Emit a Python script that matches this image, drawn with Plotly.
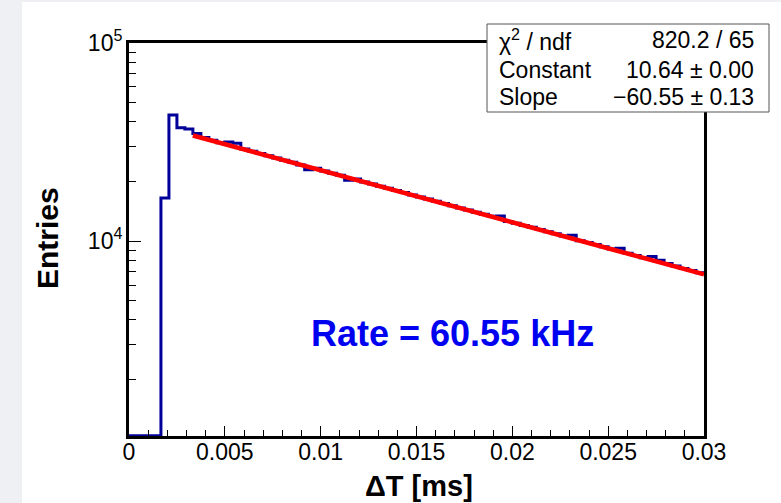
import numpy as np
import plotly.graph_objects as go

# ---- data ----
x_min, x_max, n_bins = 0.0, 0.03, 72
bin_values = [
    0, 0, 0, 0, 16500, 43300, 37300, 36800,
    34900, 33300, 32300, 31400, 31600, 31200, 29200, 28400,
    27700, 27000, 26300, 25600, 25000, 24200, 22900, 23300,
    22600, 22000, 21500, 20300, 20600, 19900, 19400, 18900,
    18500, 18000, 17600, 17100, 16700, 16300, 15900, 15500,
    15100, 14700, 14350, 14000, 13650, 13350, 13400, 12550,
    12300, 12000, 11750, 11450, 11150, 10900, 10600, 10700,
    10050, 9850, 9600, 9350, 9130, 9200, 8680, 8460,
    8250, 8350, 8000, 7700, 7480, 7280, 7100, 6930,
]
fit_constant = 10.64
fit_slope = -60.55
fit_range = (0.003333, 0.03)
x_ticks = [0, 0.005, 0.01, 0.015, 0.02, 0.025, 0.03]
x_tick_text = ["0", "0.005", "0.01", "0.015", "0.02", "0.025", "0.03"]
y_ticks = [1e4, 1e5]
y_tick_text = ["10<sup>4</sup>", "10<sup>5</sup>"]
stats_names = ["χ<sup>2</sup> / ndf", "Constant", "Slope"]
stats_values = ["820.2 / 65", "10.64 ± 0.00", "−60.55 ± 0.13"]
rate_text = "Rate = 60.55 kHz"

# ---- geometry ----
W, H = 781, 503
L, R, T, B = 129, 704, 43, 436
y_log_range = [3.016, 5.0]
y_floor = 10 ** y_log_range[0]

def px(x):
    return (x - L) / (R - L)

def py(y):
    return (B - y) / (B - T)

edges = np.linspace(x_min, x_max, n_bins + 1)
vals = np.array(bin_values, dtype=float)
disp = np.maximum(vals, y_floor * 1.004)
hx = np.concatenate([edges[:-1], [edges[-1]]])
hy = np.concatenate([disp, [disp[-1]]])

fx = np.linspace(fit_range[0], fit_range[1], 300)
fy = np.exp(fit_constant + fit_slope * fx)

FONT = "Liberation Sans, Arial, sans-serif"

fig = go.Figure()
fig.add_trace(go.Scatter(x=hx, y=hy, mode="lines", line=dict(color="#000099", width=3, shape="hv"),
                         hoverinfo="skip", showlegend=False))
fig.add_trace(go.Scatter(x=fx, y=fy, mode="lines", line=dict(color="#ff0000", width=4.5),
                         hoverinfo="skip", showlegend=False))

fig.update_layout(
    width=W, height=H,
    margin=dict(l=L, r=W - R, t=T, b=H - B, pad=0),
    paper_bgcolor="#eff0f3",
    plot_bgcolor="white",
    font=dict(family=FONT, color="black"),
    showlegend=False,
    xaxis=dict(range=[x_min, x_max], showgrid=False, zeroline=False,
               showline=True, linewidth=3, linecolor="black", mirror=True,
               ticks="inside", ticklen=10, tickwidth=1, tickcolor="black",
               tickvals=x_ticks, ticktext=x_tick_text, tickfont=dict(size=23),
               ticklabelstandoff=-7,
               minor=dict(dtick=0.001, tick0=0, ticks="inside", ticklen=6, tickwidth=1,
                          tickcolor="black", showgrid=False)),
    yaxis=dict(type="log", range=y_log_range, showgrid=False, zeroline=False,
               showline=True, linewidth=3, linecolor="black", mirror=True,
               ticks="inside", ticklen=12, tickwidth=1, tickcolor="black",
               tickvals=y_ticks, ticktext=y_tick_text, tickfont=dict(size=23),
               ticklabelstandoff=-1,
               minor=dict(dtick="D1", ticks="inside", ticklen=7, tickwidth=1,
                          tickcolor="black", showgrid=False)),
)

# white canvas (grey strip on left/top)
fig.add_shape(type="rect", xref="paper", yref="paper", layer="below",
              x0=px(22), x1=px(W + 5), y0=py(H + 5), y1=py(2),
              fillcolor="white", line=dict(width=0))

# stats box
fig.add_shape(type="rect", xref="paper", yref="paper", layer="above",
              x0=px(487), x1=px(769), y0=py(112), y1=py(24),
              fillcolor="white", line=dict(color="#555555", width=1))
row_y = [40, 70, 97]
for name, val, yy in zip(stats_names, stats_values, row_y):
    fig.add_annotation(text=name, xref="paper", yref="paper", x=px(497), y=py(yy),
                       xanchor="left", yanchor="middle", showarrow=False,
                       font=dict(size=23, family=FONT, color="black"))
    fig.add_annotation(text=val, xref="paper", yref="paper", x=px(756), y=py(yy),
                       xanchor="right", yanchor="middle", showarrow=False,
                       font=dict(size=23, family=FONT, color="black"))

# rate label
fig.add_annotation(text="<b>" + rate_text + "</b>", xref="paper", yref="paper",
                   x=px(452), y=py(333), xanchor="center", yanchor="middle", showarrow=False,
                   font=dict(size=36, family=FONT, color="#0000f0"))

# axis titles
fig.add_annotation(text="<b>ΔT [ms]</b>", xref="paper", yref="paper",
                   x=px(419), y=py(486), xanchor="center", yanchor="middle", showarrow=False,
                   font=dict(size=29, family=FONT, color="black"))
fig.add_annotation(text="<b>Entries</b>", xref="paper", yref="paper",
                   x=px(47), y=py(238), xanchor="center", yanchor="middle", showarrow=False,
                   textangle=-90, font=dict(size=30, family=FONT, color="black"))

fig.write_html("out.html")
